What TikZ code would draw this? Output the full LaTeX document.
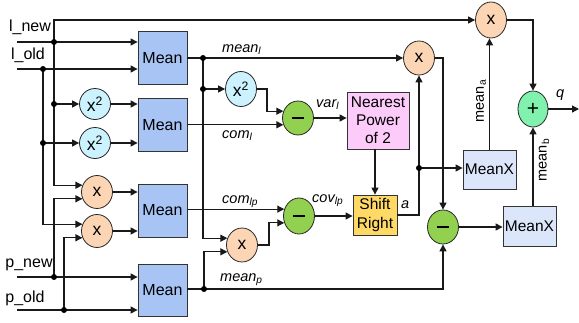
\documentclass[tikz,border=0pt]{standalone}
\usepackage{fontspec}
\setmainfont{Liberation Sans}
\usetikzlibrary{shapes.geometric,arrows.meta,calc}
\definecolor{meanblue}{HTML}{A7C4F5}
\definecolor{meanxblue}{HTML}{DCE6FA}
\definecolor{sqcyan}{HTML}{CCF2FF}
\definecolor{multpeach}{HTML}{FCD5B5}
\definecolor{minusgreen}{HTML}{92D050}
\definecolor{plusmint}{HTML}{80F2AE}
\definecolor{pinkbox}{HTML}{FCCBFA}
\definecolor{yellowbox}{HTML}{FFD966}
\begin{document}
\begin{tikzpicture}[x=1pt,y=-1pt,
  wire/.style={line width=1.2pt,draw=black!90},
  arr/.style={wire,-{Triangle[length=7pt,width=7pt]}},
  boxbase/.style={draw=black!80,line width=0.8pt,inner sep=0pt,align=center},
  meanbox/.style={boxbase,fill=meanblue,minimum width=49pt,minimum height=53pt,font=\fontsize{16}{18}\selectfont},
  meanxbox/.style={boxbase,fill=meanxblue,minimum width=53pt,minimum height=39pt,font=\fontsize{15.5}{18}\selectfont},
  op/.style={ellipse,draw=black!85,line width=0.8pt,inner sep=0pt,minimum width=31pt,minimum height=34pt,font=\fontsize{17.5}{18}\selectfont},
  sqop/.style={op,fill=sqcyan,minimum height=31pt},
  mulop/.style={op,fill=multpeach},
  subop/.style={op,fill=minusgreen},
  addop/.style={op,fill=plusmint},
  inlbl/.style={font=\fontsize{16}{18}\selectfont,inner sep=0pt},
  itlbl/.style={font=\fontsize{14.5}{16}\selectfont\itshape,inner sep=0pt,anchor=base west},
  rotlbl/.style={font=\fontsize{14.5}{16}\selectfont,inner sep=0pt,rotate=90}
]
\useasboundingbox (0,0) rectangle (579,322);

% boxes
\node[meanbox] (Mean1) at (162.5,58) {Mean};
\node[meanbox] (Mean2) at (162.5,125) {Mean};
\node[meanbox] (Mean3) at (162.5,210.5) {Mean};
\node[meanbox,minimum height=52pt] (Mean4) at (162.5,290) {Mean};
\node[meanxbox] (MX1) at (489.5,169.5) {MeanX};
\node[meanxbox,minimum height=40pt] (MX2) at (529.5,226) {MeanX};
\node[boxbase,fill=pinkbox,minimum width=62pt,minimum height=57pt,font=\fontsize{15.5}{18}\selectfont] (NP) at (378,120.5) {Nearest\\Power\\of 2};
\node[boxbase,fill=yellowbox,minimum width=44pt,minimum height=40pt,font=\fontsize{15.5}{19}\selectfont] (SR) at (375,215) {Shift\\Right};

% operators
\node[sqop] (x2a) at (95,104) {x\textsuperscript{2}};
\node[sqop] (x2b) at (95,143) {x\textsuperscript{2}};
\node[sqop,minimum height=35pt] (x2c) at (241,89) {x\textsuperscript{2}};
\node[mulop,minimum height=33pt] (mult1) at (97,192) {x};
\node[mulop,minimum height=33pt] (mult2) at (97,231) {x};
\node[mulop] (mult3) at (242,245) {x};
\node[mulop] (mult4) at (419,58) {x};
\node[mulop,minimum height=36pt] (mult5) at (491,20) {x};
\node[subop] (minus1) at (298,118) {\rule[-1.3pt]{12pt}{2.6pt}};
\node[subop,minimum height=36pt] (minus2) at (299,216) {\rule[-1.3pt]{12pt}{2.6pt}};
\node[subop] (minus3) at (443,227) {\rule[-1.3pt]{12pt}{2.6pt}};
\node[addop,minimum width=30pt,minimum height=36pt,font=\fontsize{21}{22}\selectfont] (plus) at (533,109) {+};

% input labels
\node[inlbl] (tlnew) at (30,27) {l\_new};
\node[inlbl] (tlold) at (28,55) {l\_old};
\node[inlbl] (tpnew) at (29,265) {p\_new};
\node[inlbl] (tpold) at (25,298) {p\_old};

% signal labels
\node[itlbl] (tmeanl) at (222,52) {mean\textsubscript{l}};
\node[itlbl] (tcorl) at (222,138) {com\textsubscript{l}};
\node[itlbl] (tvarl) at (316,107) {var\textsubscript{l}};
\node[itlbl] (tcorlp) at (222,203) {com\textsubscript{lp}};
\node[itlbl] (tcovlp) at (312,202) {cov\textsubscript{lp}};
\node[itlbl] (tmeanp) at (220,281) {mean\textsubscript{p}};
\node[itlbl] (ta) at (401,208) {a};
\node[itlbl] (tq) at (556,97) {q};
\node[rotlbl] (tmeana) at (481,101) {mean\textsubscript{a}};
\node[rotlbl] (tmeanb) at (544,160) {mean\textsubscript{b}};

% junction coordinates
\coordinate (lnewin) at (17,42);
\coordinate (loldin) at (17,69);
\coordinate (pnewin) at (17,277);
\coordinate (poldin) at (17,310);
\coordinate (dLn1) at (54,42);
\coordinate (dLn2) at (54,104);
\coordinate (dLo1) at (43,69);
\coordinate (dLo2) at (43,143);
\coordinate (dPn) at (54,277);
\coordinate (dPo) at (64,310);
\coordinate (dMl1) at (203,58);
\coordinate (dMl2) at (203,89);
\coordinate (dMp) at (204,289);
\coordinate (dA) at (419,168);
\coordinate (qend) at (579,109);

% inputs
\draw[arr] (lnewin) -- (lnewin -| Mean1.west);
\draw[arr] (loldin) -- (loldin -| Mean1.west);
\draw[arr] (pnewin) -- (pnewin -| Mean4.west);
\draw[arr] (poldin) -- (poldin -| Mean4.west);
\draw[arr] (dLn1) |- (mult5);
\draw[arr] (dLn1) |- (mult1.155);
\draw[arr] (dLn2) -- (x2a);
\draw[arr] (dLo1) |- (mult2.155);
\draw[arr] (dLo2) -- (x2b);
\draw[arr] (dPn) |- (mult1.205);
\draw[arr] (dPo) |- (mult2.205);

% into means
\draw[arr] (x2a.east) -- (x2a.east -| Mean2.west);
\draw[arr] (x2b.east) -- (x2b.east -| Mean2.west);
\draw[arr] (mult1.east) -- (mult1.east -| Mean3.west);
\draw[arr] (mult2.east) -- (mult2.east -| Mean3.west);

% middle
\draw[arr] (Mean1.east) -- (mult4);
\draw[arr] (dMl1) |- (mult3.155);
\draw[arr] (dMl2) -- (x2c);
\draw[arr] (x2c.east) -- ++(10,0) |- (minus1.155);
\draw[arr] (Mean2.east |- minus1.205) -- (minus1.205);
\draw[arr] (minus1.east) -- (minus1.east -| NP.west);
\draw[arr] (SR.north |- NP.south) -- (SR.north);
\draw[arr] (Mean3.east |- minus2.155) -- (minus2.155);
\draw[arr] (mult3.east) -- ++(11,0) |- (minus2.205);
\draw[arr] (minus2.east) -- (minus2.east -| SR.west);
\draw[arr] (Mean4.east |- dMp) -| (minus3.south);
\draw[arr] (dMp) |- (mult3.205);

% right side
\draw[arr] (SR.east) -| (mult4.south);
\draw[arr] (dA) -- (dA -| MX1.west);
\draw[arr] (mult4.east) -| (minus3.north);
\draw[arr] (minus3.east) -- (minus3.east -| MX2.west);
\draw[arr] (MX1.north) -- (MX1.north |- mult5.south);
\draw[arr] (mult5.east) -| (plus.north);
\draw[arr] (MX2.north -| plus.south) -- (plus.south);
\draw[arr] (plus.east) -- (qend);

% junction dots
\foreach \d in {dLn1,dLn2,dLo1,dLo2,dPn,dPo,dMl1,dMl2,dMp,dA}
  \fill[black] (\d) circle (3pt);
\end{tikzpicture}
\end{document}
